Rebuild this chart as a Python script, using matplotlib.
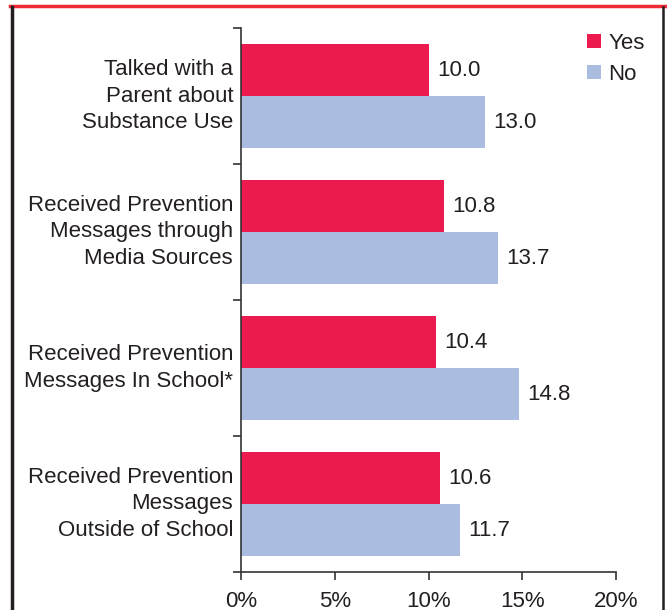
import matplotlib.pyplot as plt
from matplotlib.lines import Line2D
import numpy as np

plt.rcParams['font.family'] = ['Liberation Sans', 'DejaVu Sans']

# data
categories = [
    "Talked with a\nParent about\nSubstance Use",
    "Received Prevention\nMessages through\nMedia Sources",
    "Received Prevention\nMessages In School*",
    "Received Prevention\nMessages\nOutside of School",
]
yes_vals = [10.0, 10.8, 10.4, 10.6]
no_vals = [13.0, 13.7, 14.8, 11.7]
xticks = [0, 5, 10, 15, 20]

yes_color = "#ED1A4F"
no_color = "#AABCE0"
text_color = "#231F20"
fs = 16

fig = plt.figure(figsize=(6.67, 6.10), dpi=100)
ax = fig.add_axes([241 / 667, 1 - 572 / 610, (616 - 241) / 667, (572 - 28) / 610])

y = np.arange(len(categories))
h = 52 / 136
b1 = ax.barh(y - h / 2, yes_vals, height=h, color=yes_color, label="Yes")
b2 = ax.barh(y + h / 2, no_vals, height=h, color=no_color, label="No")

# value labels at bar ends
for bars, vals in [(b1, yes_vals), (b2, no_vals)]:
    for bar, v in zip(bars, vals):
        ax.annotate(f"{v:.1f}", (v, bar.get_y() + bar.get_height() / 2),
                    xytext=(6, 0), textcoords="offset points",
                    ha="left", va="center", fontsize=fs, color=text_color)

# category labels
for i, c in enumerate(categories):
    ax.text(-0.42, i, c, ha="right", va="center", fontsize=fs,
            color=text_color, linespacing=1.36)

ax.set_xlim(0, 20)
ax.set_ylim(3.5, -0.5)
ax.set_xticks(xticks)
ax.set_xticklabels([f"{t}%" for t in xticks], fontsize=fs, color=text_color)
ax.set_yticks([-0.5, 0.5, 1.5, 2.5, 3.5])
ax.set_yticklabels([])
ax.tick_params(axis="x", direction="out", length=6, width=1.2, color="#333333", pad=8)
ax.tick_params(axis="y", direction="out", length=6, width=1.2, color="#333333")
for s in ["top", "right"]:
    ax.spines[s].set_visible(False)
for s in ["left", "bottom"]:
    ax.spines[s].set_color("#333333")
    ax.spines[s].set_linewidth(1.2)

fig.legend(handles=[b1, b2], labels=["Yes", "No"], loc="upper left",
           bbox_to_anchor=(578 / 667, 1 - 24 / 610), frameon=False,
           fontsize=fs, handlelength=0.62, handleheight=0.62,
           handletextpad=0.35, labelspacing=0.45, borderaxespad=0,
           labelcolor=text_color)

# outer frame: red top line and dark side borders
fig.add_artist(Line2D([10 / 667, 665 / 667], [1 - 6 / 610, 1 - 6 / 610],
                      transform=fig.transFigure, color="#EE2A34", lw=2.5))
fig.add_artist(Line2D([12 / 667, 12 / 667], [0, 1 - 7 / 610],
                      transform=fig.transFigure, color="#231F20", lw=2.5))
fig.add_artist(Line2D([663 / 667, 663 / 667], [0, 1 - 7 / 610],
                      transform=fig.transFigure, color="#231F20", lw=1.8))

fig.savefig("out.png", dpi=100)
